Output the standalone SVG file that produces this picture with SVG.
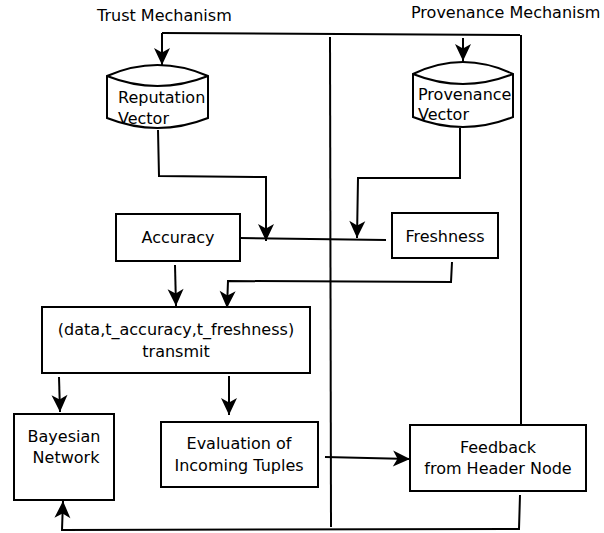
<svg xmlns="http://www.w3.org/2000/svg" width="604" height="533" viewBox="0 0 604 533">
  <style>
    .box { fill: #fff; stroke: #000; stroke-width: 2; }
    .ln { fill: none; stroke: #000; stroke-width: 2; }
    .arr { fill: none; stroke: #000; stroke-width: 2; marker-end: url(#ah); }
    text { font-family: "DejaVu Sans", sans-serif; font-size: 16px; fill: #000; }
    .c { text-anchor: middle; }
  </style>
  <defs>
    <marker id="ah" markerUnits="userSpaceOnUse" markerWidth="20" markerHeight="20" viewBox="-19 -10 20 20" refX="0" refY="0" orient="auto">
      <path d="M0,0 L-17,-8 L-12.5,0 L-17,8 Z" fill="#000"/>
    </marker>
  </defs>

  <!-- section titles -->
  <text x="97" y="21" font-size="15.5">Trust Mechanism</text>
  <text x="411" y="18" font-size="15.5">Provenance Mechanism</text>

  <!-- connectors -->
  <g id="connectors">
    <!-- section dividers -->
    <path class="ln" d="M162,33 L520,35"/>
    <path class="ln" d="M330,37 L331,527"/>
    <path class="ln" d="M521,35 L521,425"/>
    <!-- into the vectors -->
    <path class="arr" d="M162,33 L162,65"/>
    <path class="arr" d="M463,38 L463,61"/>
    <!-- reputation vector to accuracy row -->
    <path class="arr" d="M158,130 L159,176 L266,177 L266,241"/>
    <!-- provenance vector to freshness row -->
    <path class="arr" d="M460,128 L460,178 L358,178 L357,238"/>
    <!-- accuracy to freshness -->
    <path class="ln" d="M240,238 L386,240"/>
    <!-- into transmit -->
    <path class="arr" d="M175,265 L176,306"/>
    <path class="arr" d="M452,262 L451,282 L228,281 L227,308"/>
    <!-- out of transmit -->
    <path class="arr" d="M59,377 L60,412"/>
    <path class="arr" d="M229,376 L229,415"/>
    <!-- evaluation to feedback -->
    <path class="arr" d="M325,457 L410,459"/>
    <!-- feedback loop back to bayesian network -->
    <path class="arr" d="M520,495 L519,529 L62,530 L63,501"/>
  </g>

  <g id="reputation-vector">
    <path class="box" d="M107,76 Q157.5,54 208,76 L208,118 Q157.5,138 107,118 Z"/>
    <path class="ln" d="M107,76 Q157.5,96 208,76"/>
    <text x="118" y="103">Reputation</text>
    <text x="118" y="124">Vector</text>
  </g>

  <g id="provenance-vector">
    <path class="box" d="M413,74 Q463,50 513,74 L513,117 Q463,137 413,117 Z"/>
    <path class="ln" d="M413,74 Q463,94 513,74"/>
    <text x="418" y="100">Provenance</text>
    <text x="418" y="120">Vector</text>
  </g>

  <g id="accuracy">
    <rect class="box" x="116" y="214" width="124" height="47"/>
    <text class="c" x="178" y="243">Accuracy</text>
  </g>

  <g id="freshness">
    <rect class="box" x="392" y="213" width="106" height="45"/>
    <text class="c" x="445" y="242">Freshness</text>
  </g>

  <g id="transmit">
    <rect class="box" x="42" y="307" width="268" height="66"/>
    <text class="c" x="176" y="335">(data,t_accuracy,t_freshness)</text>
    <text class="c" x="176" y="357">transmit</text>
  </g>

  <g id="bayesian-network">
    <rect class="box" x="14" y="414" width="100" height="86"/>
    <text class="c" x="64" y="442">Bayesian</text>
    <text class="c" x="66" y="463">Network</text>
  </g>

  <g id="evaluation">
    <rect class="box" x="161" y="422" width="157" height="65"/>
    <text class="c" x="239" y="449">Evaluation of</text>
    <text class="c" x="239" y="471">Incoming Tuples</text>
  </g>

  <g id="feedback">
    <rect class="box" x="410" y="425" width="176" height="66"/>
    <text class="c" x="498" y="453">Feedback</text>
    <text class="c" x="498" y="474">from Header Node</text>
  </g>
</svg>
